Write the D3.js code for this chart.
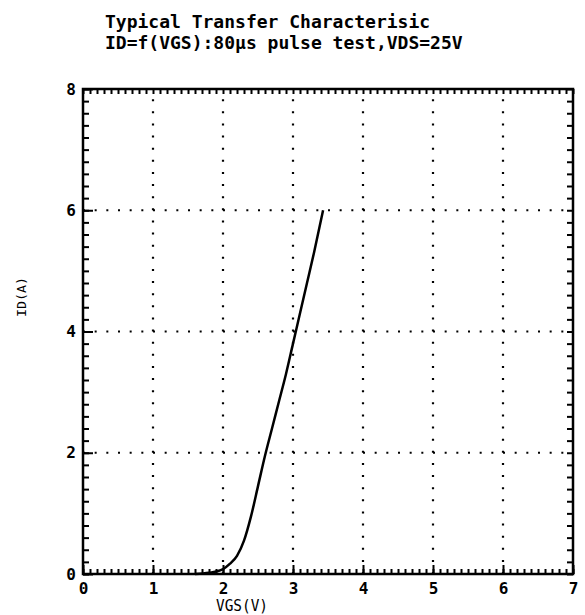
<!DOCTYPE html>
<meta charset="utf-8">
<title>Typical Transfer Characteristic</title>
<script src="https://d3js.org/d3.v7.min.js"></script>
<style>
  body { margin: 0; background: #fff; }
  text { font-family: "DejaVu Sans Mono", "Liberation Mono", monospace; font-weight: bold; fill: #000; }
  .axis path { stroke: none; }
  .axis line { stroke: #000; stroke-width: 2; }
  .axis text { font-size: 16px; }
</style>
<body>
<svg class=chart></svg>
<script>

var width = 585;
var height = 615;
var plot_left = 83, plot_right = 573, plot_top = 89, plot_bottom = 574;

var title_lines = [
  "Typical Transfer Characterisic",
  "ID=f(VGS):80\u03bcs pulse test,VDS=25V"
];
var x_ticks = [0, 1, 2, 3, 4, 5, 6, 7];
var y_ticks = [0, 2, 4, 6, 8];
var x_grid = [1, 2, 3, 4, 5, 6];
var y_grid = [2, 4, 6];

// VGS (V) and ID (A)
var vgs = [1.6, 1.8, 2.0, 2.1, 2.2, 2.3, 2.4, 2.5, 2.6, 2.7, 2.8, 2.9, 3.0, 3.1, 3.2, 3.3, 3.43];
var id  = [0.0, 0.02, 0.08, 0.17, 0.3, 0.55, 0.95, 1.45, 1.95, 2.4, 2.85, 3.3, 3.8, 4.3, 4.8, 5.3, 6.0];

var svg = d3.select(".chart")
  .attr("width", width)
  .attr("height", height);

var x = d3.scaleLinear().domain([0, 7]).range([plot_left, plot_right]);
var y = d3.scaleLinear().domain([0, 8]).range([plot_bottom, plot_top]);

svg.selectAll(".title")
  .data(title_lines)
  .enter().append("text")
    .attr("class", "title")
    .attr("x", 105)
    .attr("y", function(d, i) { return 28 + i * 21; })
    .style("font-size", "18px")
    .text(function(d) { return d; });

// dotted grid
svg.selectAll(".vgrid")
  .data(x_grid)
  .enter().append("line")
    .attr("x1", function(d) { return x(d); })
    .attr("x2", function(d) { return x(d); })
    .attr("y1", y(0))
    .attr("y2", y(8))
    .attr("stroke", "#000")
    .attr("stroke-width", 2.2)
    .attr("stroke-dasharray", "2," + ((y(0) - y(1)) / 5 - 2));

svg.selectAll(".hgrid")
  .data(y_grid)
  .enter().append("line")
    .attr("x1", x(0))
    .attr("x2", x(7))
    .attr("y1", function(d) { return y(d); })
    .attr("y2", function(d) { return y(d); })
    .attr("stroke", "#000")
    .attr("stroke-width", 2.2)
    .attr("stroke-dasharray", "2," + ((x(1) - x(0)) / 6 - 2));

// minor ticks on all four sides
var x_minor = d3.range(0, 70.5).map(function(d) { return d / 10; });
var y_minor = d3.range(0, 40.5).map(function(d) { return d / 5; });

svg.append("g").attr("class", "axis")
  .attr("transform", "translate(0," + plot_bottom + ")")
  .call(d3.axisBottom(x).tickValues(x_minor).tickSize(-5).tickFormat(""));
svg.append("g").attr("class", "axis")
  .attr("transform", "translate(0," + plot_top + ")")
  .call(d3.axisTop(x).tickValues(x_minor).tickSize(-5).tickFormat(""));
svg.append("g").attr("class", "axis")
  .attr("transform", "translate(" + plot_left + ",0)")
  .call(d3.axisLeft(y).tickValues(y_minor).tickSize(-6).tickFormat(""));
svg.append("g").attr("class", "axis")
  .attr("transform", "translate(" + plot_right + ",0)")
  .call(d3.axisRight(y).tickValues(y_minor).tickSize(-6).tickFormat(""));

// major ticks with labels
svg.append("g").attr("class", "axis")
  .attr("transform", "translate(0," + plot_bottom + ")")
  .call(d3.axisBottom(x).tickValues(x_ticks).tickSize(-9).tickPadding(9).tickFormat(d3.format("d")));
svg.append("g").attr("class", "axis")
  .attr("transform", "translate(" + plot_left + ",0)")
  .call(d3.axisLeft(y).tickValues(y_ticks).tickSize(-10).tickPadding(7).tickFormat(d3.format("d")));

// frame
svg.append("rect")
  .attr("x", plot_left)
  .attr("y", plot_top)
  .attr("width", plot_right - plot_left)
  .attr("height", plot_bottom - plot_top)
  .attr("fill", "none")
  .attr("stroke", "#000")
  .attr("stroke-width", 2.5);

// curve
var line = d3.line()
  .x(function(d) { return x(d[0]); })
  .y(function(d) { return y(d[1]); })
  .curve(d3.curveMonotoneX);

svg.append("path")
  .datum(d3.zip(vgs, id))
  .attr("d", line)
  .attr("fill", "none")
  .attr("stroke", "#000")
  .attr("stroke-width", 2.5);

// axis titles
svg.append("text")
  .attr("x", 216)
  .attr("y", 611)
  .attr("textLength", 52)
  .attr("lengthAdjust", "spacingAndGlyphs")
  .style("font-size", "15px")
  .style("font-weight", "normal")
  .text("VGS(V)");

svg.append("text")
  .attr("transform", "translate(26,297) rotate(-90)")
  .attr("text-anchor", "middle")
  .attr("textLength", 40)
  .attr("lengthAdjust", "spacingAndGlyphs")
  .style("font-size", "13px")
  .style("font-weight", "normal")
  .text("ID(A)");

</script>
</body>
